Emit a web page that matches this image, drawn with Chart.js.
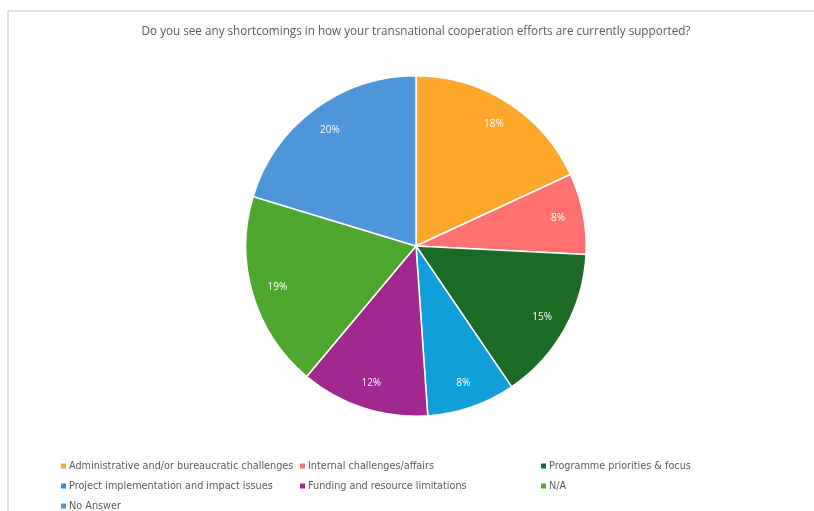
<!DOCTYPE html>
<html>
<head>
<meta charset="utf-8">
<script src="https://cdn.jsdelivr.net/npm/chart.js@4/dist/chart.umd.min.js"></script>
<style>
  html, body { margin: 0; padding: 0; background: #ffffff; }
  #wrap { position: relative; width: 814px; height: 511px; }
  #frame { position: absolute; left: 7px; top: 10px; right: 0; bottom: 0;
           border-top: 2px solid #dedede; border-left: 2px solid #dedede; }
  canvas { position: absolute; left: 0; top: 0; }
</style>
</head>
<body>
<div id="wrap">
  <div id="frame"></div>
  <canvas id="c" width="814" height="511"></canvas>
</div>
<script>
const titleText = "Do you see any shortcomings in how your transnational cooperation efforts are currently supported?";
const categories = [
  "Administrative and/or bureaucratic challenges",
  "Internal challenges/affairs",
  "Programme priorities & focus",
  "Project implementation and impact issues",
  "Funding and resource limitations",
  "N/A",
  "No Answer"
];
const shares = [18.1, 7.7, 14.7, 8.4, 12.2, 18.6, 20.3];
const sliceColors = ["#FFA72A", "#FF7070", "#1B6B24", "#109FD8", "#A0288E", "#4EA72E", "#4E95D9"];

const sliceLabels = {
  id: "sliceLabels",
  afterDatasetsDraw(chart) {
    const ctx = chart.ctx;
    const meta = chart.getDatasetMeta(0);
    const data = chart.data.datasets[0].data;
    const total = data.reduce((a, b) => a + b, 0);
    ctx.save();
    ctx.fillStyle = "#ffffff";
    ctx.font = "10px 'Open Sans'";
    ctx.textAlign = "center";
    ctx.textBaseline = "middle";
    meta.data.forEach((arc, i) => {
      const p = arc.getProps(["x", "y", "startAngle", "endAngle", "outerRadius"], true);
      const mid = (p.startAngle + p.endAngle) / 2;
      const r = p.outerRadius * 0.85;
      const pct = Math.round(data[i] / total * 100) + "%";
      ctx.fillText(pct, p.x + Math.cos(mid) * r, p.y + Math.sin(mid) * r);
    });
    ctx.restore();
  }
};

const gridLegend = {
  id: "gridLegend",
  afterDraw(chart) {
    const ctx = chart.ctx;
    const labels = chart.data.labels;
    const colors = chart.data.datasets[0].backgroundColor;
    const colX = [61, 300, 541];
    const rowY = [466, 486, 506];
    ctx.save();
    ctx.font = "9.7px 'DejaVu Sans'";
    ctx.textBaseline = "middle";
    ctx.textAlign = "left";
    labels.forEach((lab, i) => {
      const x = colX[i % 3];
      const y = rowY[Math.floor(i / 3)];
      ctx.fillStyle = colors[i];
      ctx.fillRect(x, y - 2.5, 5, 5);
      ctx.fillStyle = "#595959";
      ctx.fillText(lab, x + 8, y);
    });
    ctx.restore();
  }
};

new Chart(document.getElementById("c"), {
  type: "pie",
  data: {
    labels: categories,
    datasets: [{
      data: shares,
      backgroundColor: sliceColors,
      borderColor: "#ffffff",
      borderWidth: 1.5
    }]
  },
  options: {
    responsive: false,
    animation: false,
    layout: { padding: { left: 18, right: 0, top: 0, bottom: 94 } },
    plugins: {
      legend: { display: false },
      tooltip: { enabled: false },
      title: {
        display: true,
        text: titleText,
        color: "#595959",
        font: { family: "'Open Sans'", size: 11.7, weight: "normal" },
        padding: { top: 25, bottom: 36 }
      }
    }
  },
  plugins: [sliceLabels, gridLegend]
});
</script>
</body>
</html>
